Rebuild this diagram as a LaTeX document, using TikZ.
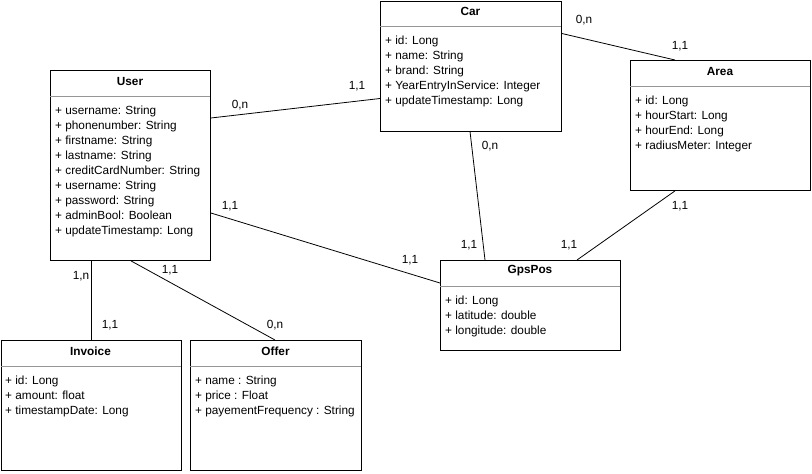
\documentclass[tikz,border=0pt]{standalone}
\usepackage{fontspec}
\setmainfont{Liberation Sans}
\usetikzlibrary{positioning,calc}
\definecolor{cSep}{RGB}{150,150,150}

\begin{document}
\begin{tikzpicture}[x=1pt,y=-1pt,font=\fontsize{11.8}{15}\selectfont,
  classbox/.style={draw, line width=0.9pt, inner sep=0pt, anchor=north west},
  classname/.style={font=\fontsize{11.8}{15}\selectfont\bfseries, inner sep=0pt},
  attr/.style={anchor=base west, inner sep=0pt},
  mult/.style={inner sep=0pt},
  assoc/.style={line width=0.8pt}]
 \useasboundingbox (0,0) rectangle (812,474);
 % ---- User ----
 \node[classbox, minimum width=160, minimum height=190] (user) at (50,70) {};
 \node[classname] (userN) at (130,81) {User};
 \draw[cSep] (50,96) -- (210,96);
 \foreach \t [count=\i] in {username: String, phonenumber: String, firstname: String,
     lastname: String, creditCardNumber: String, username: String, password: String,
     adminBool: Boolean, updateTimestamp: Long}
   \node[attr] (userA\i) at (55,{114+15*(\i-1)}) {+ \t};
 % ---- Car ----
 \node[classbox, minimum width=181, minimum height=130] (car) at (380,0.5) {};
 \node[classname] (carN) at (470.5,11) {Car};
 \draw[cSep] (380,26) -- (561,26);
 \foreach \t [count=\i] in {id: Long, name: String, brand: String,
     YearEntryInService: Integer, updateTimestamp: Long}
   \node[attr] (carA\i) at (385,{44+15*(\i-1)}) {+ \t};
 % ---- Area ----
 \node[classbox, minimum width=180, minimum height=130] (area) at (630,60) {};
 \node[classname] (areaN) at (720,71) {Area};
 \draw[cSep] (630,86) -- (810,86);
 \foreach \t [count=\i] in {id: Long, hourStart: Long, hourEnd: Long, radiusMeter: Integer}
   \node[attr] (areaA\i) at (635,{104+15*(\i-1)}) {+ \t};
 % ---- GpsPos ----
 \node[classbox, minimum width=180, minimum height=90] (gps) at (440,260) {};
 \node[classname] (gpsN) at (530,271) {GpsPos};
 \draw[cSep] (440,286) -- (620,286);
 \foreach \t [count=\i] in {id: Long, latitude: double, longitude: double}
   \node[attr] (gpsA\i) at (445,{304+15*(\i-1)}) {+ \t};
 % ---- Invoice ----
 \node[classbox, minimum width=180, minimum height=130] (invoice) at (0.5,340) {};
 \node[classname] (invoiceN) at (90.5,351) {Invoice};
 \draw[cSep] (0.5,366) -- (180.5,366);
 \foreach \t [count=\i] in {id: Long, amount: float, timestampDate: Long}
   \node[attr] (invoiceA\i) at (5,{384+15*(\i-1)}) {+ \t};
 % ---- Offer ----
 \node[classbox, minimum width=171, minimum height=130] (offer) at (190,340) {};
 \node[classname] (offerN) at (275.5,351) {Offer};
 \draw[cSep] (190,366) -- (361,366);
 \foreach \t [count=\i] in {name : String, price : Float, payementFrequency : String}
   \node[attr] (offerA\i) at (195,{384+15*(\i-1)}) {+ \t};
 % ---- associations ----
 \draw[assoc] ($(user.north east)+(0,48)$) -- ($(car.north west)+(0,98)$);
 \draw[assoc] ($(user.north east)+(0,143)$) -- ($(gps.north west)+(0,23)$);
 \draw[assoc] ($(user.south west)+(41,0)$) -- ($(invoice.north west)+(90.5,0)$);
 \draw[assoc] ($(user.south west)+(81,0)$) -- ($(offer.north west)+(85,0)$);
 \draw[assoc] ($(car.south west)+(90,0)$) -- ($(gps.north west)+(45,0)$);
 \draw[assoc] ($(car.north east)+(0,33)$) -- ($(area.north west)+(45,0)$);
 \draw[assoc] ($(area.south west)+(45,0)$) -- ($(gps.north west)+(137,0)$);
 % ---- multiplicities ----
 \node[mult] (mUserCar) at (240,105) {0,n};
 \node[mult] (mCarUser) at (357,86) {1,1};
 \node[mult] (mUserGps) at (230,206) {1,1};
 \node[mult] (mGpsUser) at (410,260) {1,1};
 \node[mult] (mUserInv) at (81,276) {1,n};
 \node[mult] (mInvUser) at (110,325) {1,1};
 \node[mult] (mUserOff) at (170,270) {1,1};
 \node[mult] (mOffUser) at (275,325) {0,n};
 \node[mult] (mCarGps) at (490,146) {0,n};
 \node[mult] (mGpsCar) at (469,245) {1,1};
 \node[mult] (mCarArea) at (584,20) {0,n};
 \node[mult] (mAreaCar) at (680,46) {1,1};
 \node[mult] (mAreaGps) at (680,206) {1,1};
 \node[mult] (mGpsArea) at (569,245) {1,1};
\end{tikzpicture}
\end{document}
